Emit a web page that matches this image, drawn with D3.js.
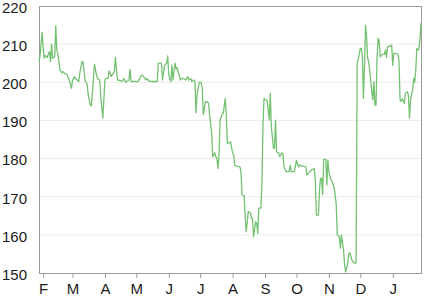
<!DOCTYPE html>
<html>
<head>
<meta charset="utf-8">
<script src="https://cdn.jsdelivr.net/npm/d3@7"></script>
<style>
  body { margin: 0; background: #fff; }
  svg { display: block; font-family: "Liberation Sans", Arial, sans-serif; }
</style>
</head>
<body>
<div id="chart"></div>
<script>
// dates (daily samples)
const dates = [
  "2015-01-28","2015-01-29","2015-01-31","2015-02-01","2015-02-02","2015-02-03","2015-02-05","2015-02-06","2015-02-07","2015-02-08",
  "2015-02-09","2015-02-10","2015-02-12","2015-02-13","2015-02-14","2015-02-15","2015-02-17","2015-02-19","2015-02-20","2015-02-22",
  "2015-02-24","2015-02-25","2015-02-26","2015-02-28","2015-03-01","2015-03-03","2015-03-04","2015-03-07","2015-03-08","2015-03-10",
  "2015-03-11","2015-03-13","2015-03-15","2015-03-16","2015-03-18","2015-03-19","2015-03-20","2015-03-22","2015-03-24","2015-03-25",
  "2015-03-27","2015-03-28","2015-03-30","2015-04-01","2015-04-02","2015-04-04","2015-04-05","2015-04-07","2015-04-08","2015-04-10",
  "2015-04-11","2015-04-13","2015-04-15","2015-04-16","2015-04-18","2015-04-19","2015-04-21","2015-04-24","2015-04-25","2015-04-26",
  "2015-04-28","2015-05-01","2015-05-03","2015-05-06","2015-05-08","2015-05-10","2015-05-11","2015-05-13","2015-05-14","2015-05-16",
  "2015-05-19","2015-05-21","2015-05-22","2015-05-25","2015-05-26","2015-05-28","2015-05-30","2015-05-31","2015-06-01","2015-06-03",
  "2015-06-04","2015-06-05","2015-06-07","2015-06-08","2015-06-09","2015-06-11","2015-06-12","2015-06-14","2015-06-15","2015-06-17",
  "2015-06-19","2015-06-20","2015-06-22","2015-06-23","2015-06-25","2015-06-26","2015-06-27","2015-06-28","2015-06-30","2015-07-02",
  "2015-07-03","2015-07-04","2015-07-06","2015-07-08","2015-07-09","2015-07-10","2015-07-12","2015-07-13","2015-07-15","2015-07-16",
  "2015-07-17","2015-07-18","2015-07-19","2015-07-20","2015-07-22","2015-07-23","2015-07-25","2015-07-26","2015-07-27","2015-07-29",
  "2015-07-30","2015-08-01","2015-08-02","2015-08-03","2015-08-05","2015-08-08","2015-08-09","2015-08-10","2015-08-12","2015-08-13",
  "2015-08-14","2015-08-16","2015-08-18","2015-08-19","2015-08-20","2015-08-21","2015-08-23","2015-08-24","2015-08-25","2015-08-26",
  "2015-08-28","2015-08-29","2015-08-30","2015-08-31","2015-09-01","2015-09-03","2015-09-04","2015-09-05","2015-09-06","2015-09-07",
  "2015-09-09","2015-09-10","2015-09-11","2015-09-12","2015-09-14","2015-09-15","2015-09-17","2015-09-18","2015-09-19","2015-09-21",
  "2015-09-24","2015-09-25","2015-09-26","2015-09-29","2015-10-01","2015-10-03","2015-10-04","2015-10-07","2015-10-10","2015-10-11",
  "2015-10-13","2015-10-15","2015-10-18","2015-10-19","2015-10-20","2015-10-22","2015-10-23","2015-10-24","2015-10-25","2015-10-26",
  "2015-10-27","2015-10-29","2015-10-30","2015-10-31","2015-11-01","2015-11-03","2015-11-04","2015-11-06","2015-11-08","2015-11-09",
  "2015-11-11","2015-11-12","2015-11-13","2015-11-14","2015-11-15","2015-11-16","2015-11-17","2015-11-19","2015-11-20","2015-11-21",
  "2015-11-23","2015-11-24","2015-11-26","2015-11-27","2015-11-28","2015-11-29","2015-12-01","2015-12-02","2015-12-03","2015-12-04",
  "2015-12-05","2015-12-06","2015-12-07","2015-12-08","2015-12-09","2015-12-10","2015-12-12","2015-12-13","2015-12-14","2015-12-15",
  "2015-12-16","2015-12-17","2015-12-18","2015-12-19","2015-12-20","2015-12-22","2015-12-24","2015-12-25","2015-12-26","2015-12-27",
  "2015-12-29","2015-12-30","2015-12-31","2016-01-01","2016-01-02","2016-01-04","2016-01-06","2016-01-07","2016-01-08","2016-01-09",
  "2016-01-10","2016-01-12","2016-01-13","2016-01-15","2016-01-16","2016-01-17","2016-01-18","2016-01-20","2016-01-21","2016-01-22",
  "2016-01-23","2016-01-24","2016-01-25","2016-01-26","2016-01-27","2016-01-28"
];

// values
const values = [
  205.4,207,213.1,209,206.3,207,206.5,207.5,208,205.4,
  210,206.3,206.7,214.8,208.5,207.5,203.2,202.5,202.8,202.2,
  202,201.2,200.5,198.4,200.5,201.5,201,200.2,202.4,205.4,
  205.4,200.6,199.5,196.7,194,193.8,197.1,204.7,201.9,201,
  200.6,196.2,190.6,200.6,201,201,203,201.5,202,202.8,
  206.5,200.6,200.5,200.3,200.4,201,200,200.6,203.4,200.2,
  200.2,200.2,200.3,201.9,201.5,200.6,201,200.3,200.3,200.2,
  200.2,200.2,205,205,200.6,204.5,205,206.9,201.9,200.2,
  204.5,200.6,205,203.5,203.8,201.9,200.6,201,201,200.6,
  201.5,200.6,201,200.2,200.6,200.2,192,196.5,200,200,
  198.3,191.5,194.9,194.9,194.5,191.4,186.6,180.5,181.5,180.5,
  180,177.4,181,190.1,191.6,191.8,195.8,191,184,184.2,
  184.4,181.4,181,178.3,178,177.8,176.6,170.5,170.3,164.8,
  160.8,166.1,165.8,164.3,164.3,159.5,163.4,163,160.4,167,
  167,173.5,188.4,195.8,195.5,195.2,192.7,190.1,197.1,188.4,
  182.7,182.7,190.1,181.8,181.5,180.5,181.4,181.4,177.9,176.6,
  176.6,178.3,176.6,176.6,179.5,177.8,178.3,178,177.8,175.7,
  176.3,177,177.4,174.4,165.2,165.2,171.8,174.8,174.8,170.5,
  179.8,179.8,173.1,179.6,176.5,174.4,174,172.5,168,160,
  159.5,156.5,160,158,156,152.1,150.3,152.5,155.1,155.3,
  153.4,153,152.5,152.8,205,206,208.9,208.9,206.5,195.8,
  204.1,215,212,206.3,205.4,203,197.5,195.4,200.2,194,
  194,206.3,211.5,211,206.7,207.3,207.3,208.5,206.5,209.3,
  209.5,209.5,209.8,204.5,207.6,207.6,207.3,205.5,195.4,195,
  195.7,194.5,197.1,197.5,196.5,190.6,195.4,198,201,200,
  203.2,208.9,208.5,208.7,211.1,215.5
];

const yTicks = [150, 160, 170, 180, 190, 200, 210, 220];
const monthLetters = ["J","F","M","A","M","J","J","A","S","O","N","D"];

const W = 434, H = 296;
const margin = {top: 6, right: 13, bottom: 23, left: 39};
const width = W - margin.left - margin.right;
const height = H - margin.top - margin.bottom;

const parse = d3.timeParse("%Y-%m-%d");
const data = dates.map((d, i) => ({date: parse(d), value: values[i]}));

const x = d3.scaleTime()
  .domain(d3.extent(data, d => d.date))
  .range([0, width]);

const y = d3.scaleLinear()
  .domain([150, 220])
  .range([height, 0]);

const svg = d3.select("#chart").append("svg")
  .attr("width", W)
  .attr("height", H);

const g = svg.append("g")
  .attr("transform", "translate(" + margin.left + "," + margin.top + ")");

// grid lines
g.append("g")
  .selectAll("line")
  .data(yTicks.slice(1, -1))
  .join("line")
    .attr("x1", 0)
    .attr("x2", width)
    .attr("y1", d => y(d))
    .attr("y2", d => y(d))
    .attr("stroke", "#ebebeb")
    .attr("stroke-width", 1);

// frame
g.append("rect")
  .attr("x", 0.5)
  .attr("y", 0.5)
  .attr("width", width)
  .attr("height", height)
  .attr("fill", "none")
  .attr("stroke", "#9a9a9a");

// y axis labels
const yAxis = d3.axisLeft(y)
  .tickValues(yTicks)
  .tickSize(0)
  .tickPadding(12);

g.append("g")
  .call(yAxis)
  .call(s => s.select(".domain").remove())
  .selectAll("text")
    .attr("dy", "0.42em")
    .attr("font-size", 15)
    .attr("font-family", "Liberation Sans, Arial, sans-serif")
    .attr("fill", "#1a1a1a");

// x axis
const xAxis = d3.axisBottom(x)
  .ticks(d3.timeMonth.every(1))
  .tickFormat(d => monthLetters[d.getMonth()])
  .tickSize(5)
  .tickSizeOuter(0)
  .tickPadding(5);

const gx = g.append("g")
  .attr("transform", "translate(0," + height + ")")
  .call(xAxis);
gx.select(".domain").attr("stroke", "#9a9a9a");
gx.selectAll(".tick line").attr("stroke", "#9a9a9a");
gx.selectAll("text")
  .attr("font-size", 15)
  .attr("font-family", "Liberation Sans, Arial, sans-serif")
  .attr("fill", "#1a1a1a");

// the line
const line = d3.line()
  .x(d => x(d.date))
  .y(d => y(d.value));

g.append("path")
  .datum(data)
  .attr("fill", "none")
  .attr("stroke", "#74c172")
  .attr("stroke-width", 1.3)
  .attr("stroke-linejoin", "round")
  .attr("d", line);
</script>
</body>
</html>
